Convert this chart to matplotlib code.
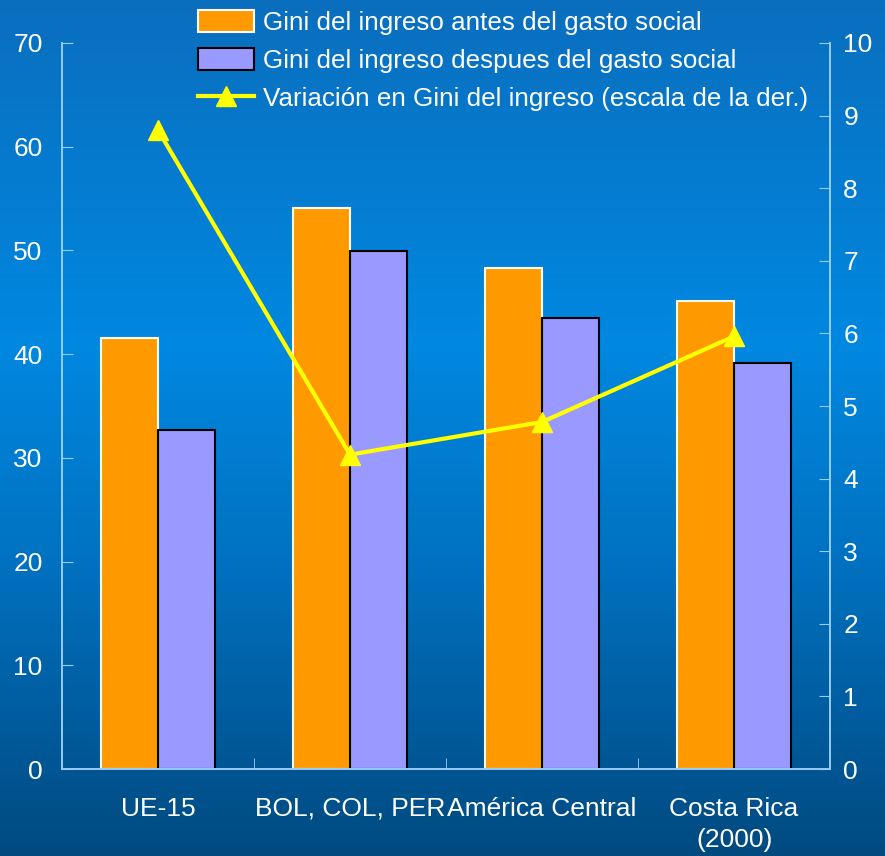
import numpy as np
import matplotlib
matplotlib.use("Agg")
import matplotlib.pyplot as plt
from matplotlib.colors import LinearSegmentedColormap
from matplotlib.lines import Line2D
from matplotlib.patches import Patch

plt.rcParams['font.family'] = ['Liberation Sans', 'DejaVu Sans']

categories = ['UE-15', 'BOL, COL, PER', 'América Central', 'Costa Rica\n(2000)']
gini_antes = [41.6, 54.1, 48.3, 45.1]
gini_despues = [32.7, 49.9, 43.5, 39.1]
variacion = [8.8, 4.33, 4.78, 5.96]

left_ticks = [0, 10, 20, 30, 40, 50, 60, 70]
right_ticks = [0, 1, 2, 3, 4, 5, 6, 7, 8, 9, 10]

fig = plt.figure(figsize=(8.85, 8.56), dpi=100)

# background gradient (top -> bottom)
bg = LinearSegmentedColormap.from_list('bg', [
    (0.0, '#0A6EBE'),
    (0.40, '#0088E0'),
    (0.65, '#0072C2'),
    (1.0, '#004A80'),
])
bgax = fig.add_axes([0, 0, 1, 1], zorder=-1)
bgax.imshow(np.linspace(0, 1, 256).reshape(-1, 1), aspect='auto', cmap=bg,
            extent=[0, 1, 0, 1])
bgax.axis('off')

ax = fig.add_axes([0.070, 0.1016, 0.868, 0.8482])
ax.patch.set_alpha(0)
x = np.arange(len(categories))
w = 0.295

ax.bar(x - w / 2, gini_antes, w, color='#FF9900', edgecolor='white', linewidth=1.5,
       zorder=2)
ax.bar(x + w / 2, gini_despues, w, color='#9999FF', edgecolor='black', linewidth=1.5,
       zorder=2)

ax.set_xlim(-0.5, 3.5)
ax.set_ylim(0, 70)
ax.set_yticks(left_ticks)

ax2 = ax.twinx()
ax2.set_ylim(0, 10)
ax2.set_yticks(right_ticks)
ax2.plot(x, variacion, color='#FFFF00', linewidth=3, marker='^', markersize=15,
         zorder=5)

spine_col = '#9CCBF2'
for a in (ax, ax2):
    a.spines['top'].set_visible(False)
    for s in ('left', 'right', 'bottom'):
        a.spines[s].set_color(spine_col)
        a.spines[s].set_linewidth(1.2)

ax.tick_params(axis='y', direction='in', length=8, color=spine_col, labelcolor='white',
               labelsize=19, pad=14)
ax2.tick_params(axis='y', direction='in', length=8, color=spine_col, labelcolor='white',
                labelsize=19, pad=9.5)

ax.set_xticks(x)
ax.set_xticklabels(categories, color='white', fontsize=19, linespacing=1.4)
ax.tick_params(axis='x', length=0, pad=20)
ax.set_xticks([0.5, 1.5, 2.5], minor=True)
ax.tick_params(axis='x', which='minor', direction='in', length=8, color=spine_col)

handles = [
    Patch(facecolor='#FF9900', edgecolor='white', linewidth=1.5),
    Patch(facecolor='#9999FF', edgecolor='black', linewidth=1.5),
    Line2D([0], [0], color='#FFFF00', linewidth=3, marker='^', markersize=15),
]
labels = ['Gini del ingreso antes del gasto social',
          'Gini del ingreso despues del gasto social',
          'Variación en Gini del ingreso (escala de la der.)']
leg = fig.legend(handles, labels, loc='upper left', bbox_to_anchor=(0.197, 1.0155),
                 frameon=False, fontsize=18.7, labelcolor='white', handlelength=2.15,
                 handleheight=0.9, handletextpad=0.35, labelspacing=0.52)

fig.savefig('out.png', dpi=100)
